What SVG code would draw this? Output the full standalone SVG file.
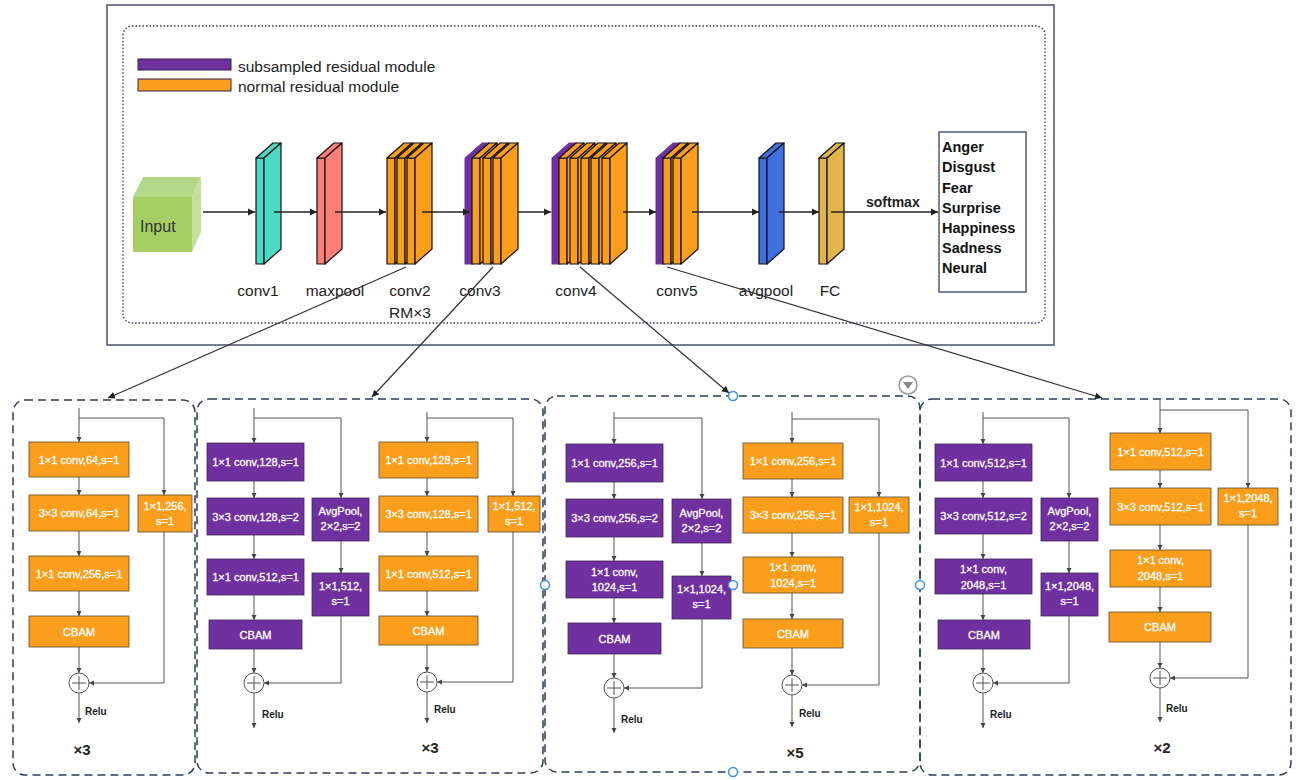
<svg xmlns="http://www.w3.org/2000/svg" xmlns:xlink="http://www.w3.org/1999/xlink" width="1306" height="780" viewBox="0 0 1306 780">
<style>
text{font-family:"Liberation Sans",Arial,sans-serif}
.lbl{font-size:15.5px;fill:#222;text-anchor:middle}
.leg{font-size:15.5px;fill:#222}
.cls{font-size:14.5px;font-weight:bold;fill:#111}
.bt{font-size:11px;fill:#fff;stroke:#fff;stroke-width:0.3;text-anchor:middle}
.relu{font-size:10px;font-weight:bold;fill:#222}
.mul{font-size:15px;font-weight:bold;fill:#222;text-anchor:middle}
.slab{stroke:#111;stroke-width:1.2;stroke-linejoin:round}
.pur{fill:#7030a0;stroke:#3a2a55;stroke-width:0.8}
.org{fill:#fa9e1c;stroke:#5a4a3a;stroke-width:0.8}
.panel{fill:none;stroke:#2f3b5e;stroke-width:1.5;stroke-dasharray:8 5}
.flow{fill:none;stroke:#555;stroke-width:1}
.main{fill:none;stroke:#222;stroke-width:1.4}
.link{fill:none;stroke:#333;stroke-width:1.2}
.plus{fill:#fff;stroke:#555;stroke-width:1}
.handle{fill:#fff;stroke:#3b8fe8;stroke-width:1.5}
</style>
<defs>
<marker id="ah" markerWidth="8" markerHeight="8" refX="7" refY="4" orient="auto" markerUnits="userSpaceOnUse">
<path d="M0,0.5 L7,4 L0,7.5 Z" fill="#222"/>
</marker>
<marker id="as" markerWidth="6" markerHeight="6" refX="5" refY="3" orient="auto" markerUnits="userSpaceOnUse">
<path d="M0,0.5 L5,3 L0,5.5 Z" fill="#444"/>
</marker>
<g id="slab">
<rect x="0" y="158" width="8" height="106"/>
<path d="M0,158 L17,143 L25,143 L8,158 Z"/>
<path d="M8,158 L25,143 L25,249 L8,264 Z"/>
</g>
<g id="plus">
<circle cx="0" cy="0" r="10" class="plus"/>
<path d="M-7,0 H7 M0,-7 V7" stroke="#555" stroke-width="1"/>
</g>
</defs>
<rect width="1306" height="780" fill="#fff"/>

<g id="frame">
<rect x="107" y="5" width="947" height="340" fill="none" stroke="#4a5068" stroke-width="1.5"/>
<rect x="123" y="26" width="922" height="297" rx="9" fill="none" stroke="#2f3b5e" stroke-width="1.3" stroke-dasharray="1.5 2"/>
</g>

<g id="legend">
<rect x="138" y="59" width="93" height="11" fill="#7030a0" stroke="#2f2050" stroke-width="1"/>
<rect x="138" y="79" width="93" height="12" fill="#fa9e1c" stroke="#2f2050" stroke-width="1"/>
<text class="leg" x="238" y="72">subsampled residual module</text>
<text class="leg" x="238" y="92">normal residual module</text>
</g>

<g id="input">
<path d="M133,197 L143,177 L201,177 L192,197 Z" fill="#b4d88a"/>
<path d="M192,197 L201,177 L201,232 L192,252 Z" fill="#c2e09e"/>
<rect x="133" y="197" width="59" height="55" fill="#a5cf62"/>
<text x="140" y="232" style="font-size:16px;fill:#333">Input</text>
</g>

<g id="conv1" class="slab"><use xlink:href="#slab" x="256" fill="#4dd9c4"/></g>
<g id="maxpool" class="slab"><use xlink:href="#slab" x="317" fill="#ff7f78"/></g>
<g id="conv2" class="slab">
<use xlink:href="#slab" x="387" fill="#fa9e1c"/>
<use xlink:href="#slab" x="397" fill="#fa9e1c"/>
<use xlink:href="#slab" x="407" fill="#fa9e1c"/>
</g>
<g id="conv3">
<use xlink:href="#slab" x="465" fill="#7030a0" stroke="#7030a0"/>
<g class="slab">
<use xlink:href="#slab" x="472" fill="#fa9e1c"/>
<use xlink:href="#slab" x="483" fill="#fa9e1c"/>
<use xlink:href="#slab" x="493" fill="#fa9e1c"/>
</g>
</g>
<g id="conv4">
<use xlink:href="#slab" x="552" fill="#7030a0" stroke="#7030a0"/>
<g class="slab">
<use xlink:href="#slab" x="559" fill="#fa9e1c"/>
<use xlink:href="#slab" x="570" fill="#fa9e1c"/>
<use xlink:href="#slab" x="581" fill="#fa9e1c"/>
<use xlink:href="#slab" x="591" fill="#fa9e1c"/>
<use xlink:href="#slab" x="602" fill="#fa9e1c"/>
</g>
</g>
<g id="conv5">
<use xlink:href="#slab" x="656" fill="#7030a0" stroke="#7030a0"/>
<g class="slab">
<use xlink:href="#slab" x="663" fill="#fa9e1c"/>
<use xlink:href="#slab" x="673" fill="#fa9e1c"/>
</g>
</g>
<g id="avgpool" class="slab"><use xlink:href="#slab" x="759" fill="#3f6fe0"/></g>
<g id="fc" class="slab"><use xlink:href="#slab" x="819" fill="#e1b54c"/></g>

<g id="classes">
<rect x="939" y="132" width="87" height="160" fill="#fff" stroke="#3a4260" stroke-width="1.3"/>
<text class="cls" x="942" y="152">Anger</text>
<text class="cls" x="942" y="172">Disgust</text>
<text class="cls" x="942" y="193">Fear</text>
<text class="cls" x="942" y="213">Surprise</text>
<text class="cls" x="942" y="233">Happiness</text>
<text class="cls" x="942" y="253">Sadness</text>
<text class="cls" x="942" y="273">Neural</text>
</g>

<g id="stage-labels">
<text class="lbl" x="258" y="296">conv1</text>
<text class="lbl" x="335" y="296">maxpool</text>
<text class="lbl" x="410" y="296">conv2</text>
<text class="lbl" x="410" y="318">RM×3</text>
<text class="lbl" x="480" y="296">conv3</text>
<text class="lbl" x="576" y="296">conv4</text>
<text class="lbl" x="677" y="296">conv5</text>
<text class="lbl" x="766" y="296">avgpool</text>
<text class="lbl" x="830" y="296">FC</text>
<text x="866" y="207" style="font-size:14px;font-weight:bold;fill:#222">softmax</text>
</g>

<g id="connectors">
<path class="main" d="M203,212 H255" marker-end="url(#ah)"/>
<path class="main" d="M274,212 H317" marker-end="url(#ah)"/>
<path class="main" d="M335,212 H386" marker-end="url(#ah)"/>
<path class="main" d="M422,212 H470" marker-end="url(#ah)"/>
<path class="main" d="M518,212 H551" marker-end="url(#ah)"/>
<path class="main" d="M623,212 H656" marker-end="url(#ah)"/>
<path class="main" d="M692,212 H759" marker-end="url(#ah)"/>
<path class="main" d="M779,212 H819" marker-end="url(#ah)"/>
<path class="main" d="M831,212 H938" marker-end="url(#ah)"/>
<path class="link" d="M406,267 L108,398" marker-end="url(#ah)"/>
<path class="link" d="M493,267 L372,397" marker-end="url(#ah)"/>
<path class="link" d="M580,267 L729,393" marker-end="url(#ah)"/>
<path class="link" d="M667,267 L1102,398" marker-end="url(#ah)"/>

<path class="flow" d="M79,408 V442" marker-end="url(#as)"/>
<path class="flow" d="M79,418 H164 V495" marker-end="url(#as)"/>
<path class="flow" d="M79,477 V495" marker-end="url(#as)"/>
<path class="flow" d="M79,531 V556" marker-end="url(#as)"/>
<path class="flow" d="M79,591 V616" marker-end="url(#as)"/>
<path class="flow" d="M79,647 V673" marker-end="url(#as)"/>
<path class="flow" d="M164,532 V683 H89" marker-end="url(#as)"/>
<path class="flow" d="M79,693 V723" marker-end="url(#as)"/>
<path class="flow" d="M254,408 V443" marker-end="url(#as)"/>
<path class="flow" d="M254,418 H341 V498" marker-end="url(#as)"/>
<path class="flow" d="M254,481 V498" marker-end="url(#as)"/>
<path class="flow" d="M254,535 V559" marker-end="url(#as)"/>
<path class="flow" d="M254,595 V620" marker-end="url(#as)"/>
<path class="flow" d="M254,649 V673" marker-end="url(#as)"/>
<path class="flow" d="M341,541 V573" marker-end="url(#as)"/>
<path class="flow" d="M341,616 V683 H264" marker-end="url(#as)"/>
<path class="flow" d="M254,693 V728" marker-end="url(#as)"/>
<path class="flow" d="M427,412 V442" marker-end="url(#as)"/>
<path class="flow" d="M427,418 H513 V496" marker-end="url(#as)"/>
<path class="flow" d="M427,478 V496" marker-end="url(#as)"/>
<path class="flow" d="M427,532 V556" marker-end="url(#as)"/>
<path class="flow" d="M427,591 V616" marker-end="url(#as)"/>
<path class="flow" d="M427,645 V672" marker-end="url(#as)"/>
<path class="flow" d="M513,532 V682 H437" marker-end="url(#as)"/>
<path class="flow" d="M427,692 V723" marker-end="url(#as)"/>
<path class="flow" d="M614,412 V444" marker-end="url(#as)"/>
<path class="flow" d="M614,418 H702 V499" marker-end="url(#as)"/>
<path class="flow" d="M614,482 V499" marker-end="url(#as)"/>
<path class="flow" d="M614,537 V561" marker-end="url(#as)"/>
<path class="flow" d="M614,598 V623" marker-end="url(#as)"/>
<path class="flow" d="M614,654 V678" marker-end="url(#as)"/>
<path class="flow" d="M702,543 V576" marker-end="url(#as)"/>
<path class="flow" d="M702,619 V688 H624" marker-end="url(#as)"/>
<path class="flow" d="M614,698 V733" marker-end="url(#as)"/>
<path class="flow" d="M792,412 V443" marker-end="url(#as)"/>
<path class="flow" d="M792,419 H879 V497" marker-end="url(#as)"/>
<path class="flow" d="M792,479 V497" marker-end="url(#as)"/>
<path class="flow" d="M792,533 V557" marker-end="url(#as)"/>
<path class="flow" d="M792,593 V619" marker-end="url(#as)"/>
<path class="flow" d="M792,648 V675" marker-end="url(#as)"/>
<path class="flow" d="M879,533 V685 H802" marker-end="url(#as)"/>
<path class="flow" d="M792,695 V727" marker-end="url(#as)"/>
<path class="flow" d="M983,412 V444" marker-end="url(#as)"/>
<path class="flow" d="M983,418 H1069 V498" marker-end="url(#as)"/>
<path class="flow" d="M983,481 V498" marker-end="url(#as)"/>
<path class="flow" d="M983,534 V559" marker-end="url(#as)"/>
<path class="flow" d="M983,594 V620" marker-end="url(#as)"/>
<path class="flow" d="M983,649 V673" marker-end="url(#as)"/>
<path class="flow" d="M1069,541 V573" marker-end="url(#as)"/>
<path class="flow" d="M1069,616 V683 H993" marker-end="url(#as)"/>
<path class="flow" d="M983,693 V728" marker-end="url(#as)"/>
<path class="flow" d="M1160,400 V433" marker-end="url(#as)"/>
<path class="flow" d="M1160,410 H1248 V488" marker-end="url(#as)"/>
<path class="flow" d="M1160,470 V488" marker-end="url(#as)"/>
<path class="flow" d="M1160,525 V550" marker-end="url(#as)"/>
<path class="flow" d="M1160,587 V612" marker-end="url(#as)"/>
<path class="flow" d="M1160,642 V668" marker-end="url(#as)"/>
<path class="flow" d="M1248,525 V678 H1170" marker-end="url(#as)"/>
<path class="flow" d="M1160,688 V722" marker-end="url(#as)"/>
</g>

<g id="panel1">
<rect class="panel" x="13" y="400" width="182" height="375" rx="12"/>
<g id="p1-a1"><rect class="org" x="29" y="442" width="100" height="35"/><text class="bt" x="79" y="463.5">1×1 conv,64,s=1</text></g>
<g id="p1-a2"><rect class="org" x="29" y="495" width="100" height="36"/><text class="bt" x="79" y="517">3×3 conv,64,s=1</text></g>
<g id="p1-a3"><rect class="org" x="29" y="556" width="100" height="35"/><text class="bt" x="79" y="577.5">1×1 conv,256,s=1</text></g>
<g id="p1-cbam"><rect class="org" x="29" y="616" width="100" height="31"/><text class="bt" x="79" y="635.5">CBAM</text></g>
<g id="p1-side"><rect class="org" x="138" y="495" width="54" height="37"/><text class="bt" x="165" y="510">1×1,256,</text><text class="bt" x="165" y="525">s=1</text></g>
<g id="p1-plus"><use xlink:href="#plus" x="79" y="683"/></g>
<text class="relu" x="85" y="715">Relu</text>
<text class="mul" x="82" y="755">×3</text>
</g>

<g id="panel2">
<rect class="panel" x="197" y="399" width="346" height="374" rx="12"/>
<g id="p2-b1"><rect class="pur" x="207" y="443" width="97" height="38"/><text class="bt" x="255.5" y="466">1×1 conv,128,s=1</text></g>
<g id="p2-b2"><rect class="pur" x="207" y="498" width="97" height="37"/><text class="bt" x="255.5" y="520.5">3×3 conv,128,s=2</text></g>
<g id="p2-b3"><rect class="pur" x="207" y="559" width="97" height="36"/><text class="bt" x="255.5" y="581">1×1 conv,512,s=1</text></g>
<g id="p2-bcbam"><rect class="pur" x="209" y="620" width="93" height="29"/><text class="bt" x="255.5" y="638.5">CBAM</text></g>
<g id="p2-avg"><rect class="pur" x="312" y="498" width="57" height="43"/><text class="bt" x="340.5" y="515">AvgPool,</text><text class="bt" x="340.5" y="530">2×2,s=2</text></g>
<g id="p2-bside"><rect class="pur" x="312" y="573" width="57" height="43"/><text class="bt" x="340.5" y="590">1×1,512,</text><text class="bt" x="340.5" y="605">s=1</text></g>
<g id="p2-bplus"><use xlink:href="#plus" x="254" y="683"/></g>
<text class="relu" x="262" y="718">Relu</text>
<g id="p2-c1"><rect class="org" x="379" y="442" width="99" height="36"/><text class="bt" x="428.5" y="464">1×1 conv,128,s=1</text></g>
<g id="p2-c2"><rect class="org" x="379" y="496" width="99" height="36"/><text class="bt" x="428.5" y="518">3×3 conv,128,s=1</text></g>
<g id="p2-c3"><rect class="org" x="379" y="556" width="99" height="35"/><text class="bt" x="428.5" y="577.5">1×1 conv,512,s=1</text></g>
<g id="p2-ccbam"><rect class="org" x="379" y="616" width="99" height="29"/><text class="bt" x="428.5" y="634.5">CBAM</text></g>
<g id="p2-cside"><rect class="org" x="488" y="496" width="52" height="36"/><text class="bt" x="514" y="510">1×1,512,</text><text class="bt" x="514" y="525">s=1</text></g>
<g id="p2-cplus"><use xlink:href="#plus" x="427" y="682"/></g>
<text class="relu" x="434" y="713">Relu</text>
<text class="mul" x="430" y="753">×3</text>
</g>

<g id="panel3">
<rect class="panel" x="545" y="396" width="375" height="376" rx="12"/>
<g id="p3-d1"><rect class="pur" x="566" y="444" width="97" height="38"/><text class="bt" x="614.5" y="467">1×1 conv,256,s=1</text></g>
<g id="p3-d2"><rect class="pur" x="566" y="499" width="97" height="38"/><text class="bt" x="614.5" y="522">3×3 conv,256,s=2</text></g>
<g id="p3-d3"><rect class="pur" x="566" y="561" width="97" height="37"/><text class="bt" x="614.5" y="575.5">1×1 conv,</text><text class="bt" x="614.5" y="591">1024,s=1</text></g>
<g id="p3-dcbam"><rect class="pur" x="568" y="623" width="93" height="31"/><text class="bt" x="614.5" y="642.5">CBAM</text></g>
<g id="p3-avg"><rect class="pur" x="672" y="499" width="59" height="44"/><text class="bt" x="701.5" y="517">AvgPool,</text><text class="bt" x="701.5" y="532">2×2,s=2</text></g>
<g id="p3-dside"><rect class="pur" x="672" y="576" width="59" height="43"/><text class="bt" x="701.5" y="593">1×1,1024,</text><text class="bt" x="701.5" y="608">s=1</text></g>
<g id="p3-dplus"><use xlink:href="#plus" x="614" y="688"/></g>
<text class="relu" x="621" y="723">Relu</text>
<g id="p3-e1"><rect class="org" x="743" y="443" width="100" height="36"/><text class="bt" x="793" y="465">1×1 conv,256,s=1</text></g>
<g id="p3-e2"><rect class="org" x="743" y="497" width="100" height="36"/><text class="bt" x="793" y="519">3×3 conv,256,s=1</text></g>
<g id="p3-e3"><rect class="org" x="743" y="557" width="100" height="36"/><text class="bt" x="793" y="571">1×1 conv,</text><text class="bt" x="793" y="587">1024,s=1</text></g>
<g id="p3-ecbam"><rect class="org" x="743" y="619" width="100" height="29"/><text class="bt" x="793" y="637.5">CBAM</text></g>
<g id="p3-eside"><rect class="org" x="849" y="497" width="60" height="36"/><text class="bt" x="879" y="511">1×1,1024,</text><text class="bt" x="879" y="526">s=1</text></g>
<g id="p3-eplus"><use xlink:href="#plus" x="792" y="685"/></g>
<text class="relu" x="799" y="717">Relu</text>
<text class="mul" x="795" y="758">×5</text>
</g>

<g id="panel4">
<rect class="panel" x="920" y="399" width="371" height="376" rx="12"/>
<g id="p4-f1"><rect class="pur" x="935" y="444" width="97" height="37"/><text class="bt" x="983.5" y="466.5">1×1 conv,512,s=1</text></g>
<g id="p4-f2"><rect class="pur" x="935" y="498" width="97" height="36"/><text class="bt" x="983.5" y="520">3×3 conv,512,s=2</text></g>
<g id="p4-f3"><rect class="pur" x="935" y="559" width="97" height="35"/><text class="bt" x="983.5" y="573">1×1 conv,</text><text class="bt" x="983.5" y="589">2048,s=1</text></g>
<g id="p4-fcbam"><rect class="pur" x="938" y="620" width="92" height="29"/><text class="bt" x="984" y="638.5">CBAM</text></g>
<g id="p4-avg"><rect class="pur" x="1041" y="498" width="57" height="43"/><text class="bt" x="1069.5" y="515">AvgPool,</text><text class="bt" x="1069.5" y="530">2×2,s=2</text></g>
<g id="p4-fside"><rect class="pur" x="1041" y="573" width="57" height="43"/><text class="bt" x="1069.5" y="590">1×1,2048,</text><text class="bt" x="1069.5" y="605">s=1</text></g>
<g id="p4-fplus"><use xlink:href="#plus" x="983" y="683"/></g>
<text class="relu" x="990" y="718">Relu</text>
<g id="p4-g1"><rect class="org" x="1110" y="433" width="101" height="37"/><text class="bt" x="1160.5" y="455.5">1×1 conv,512,s=1</text></g>
<g id="p4-g2"><rect class="org" x="1110" y="488" width="101" height="37"/><text class="bt" x="1160.5" y="510.5">3×3 conv,512,s=1</text></g>
<g id="p4-g3"><rect class="org" x="1110" y="550" width="101" height="37"/><text class="bt" x="1160.5" y="564">1×1 conv,</text><text class="bt" x="1160.5" y="580">2048,s=1</text></g>
<g id="p4-gcbam"><rect class="org" x="1109" y="612" width="102" height="30"/><text class="bt" x="1160" y="631">CBAM</text></g>
<g id="p4-gside"><rect class="org" x="1218" y="488" width="60" height="37"/><text class="bt" x="1248" y="502">1×1,2048,</text><text class="bt" x="1248" y="517">s=1</text></g>
<g id="p4-gplus"><use xlink:href="#plus" x="1160" y="678"/></g>
<text class="relu" x="1166" y="712">Relu</text>
<text class="mul" x="1162" y="753">×2</text>
</g>

<g id="handles">
<circle class="handle" cx="733" cy="396" r="4.5"/>
<circle class="handle" cx="545" cy="585" r="4.5"/>
<circle class="handle" cx="920" cy="585" r="4.5"/>
<circle class="handle" cx="733" cy="585" r="4.5"/>
<circle class="handle" cx="733" cy="772" r="4.5"/>
<circle cx="908" cy="385" r="9" fill="#fff" stroke="#999" stroke-width="1.5"/>
<path d="M903,382 L913,382 L908,389 Z" fill="#888"/>
</g>
</svg>
